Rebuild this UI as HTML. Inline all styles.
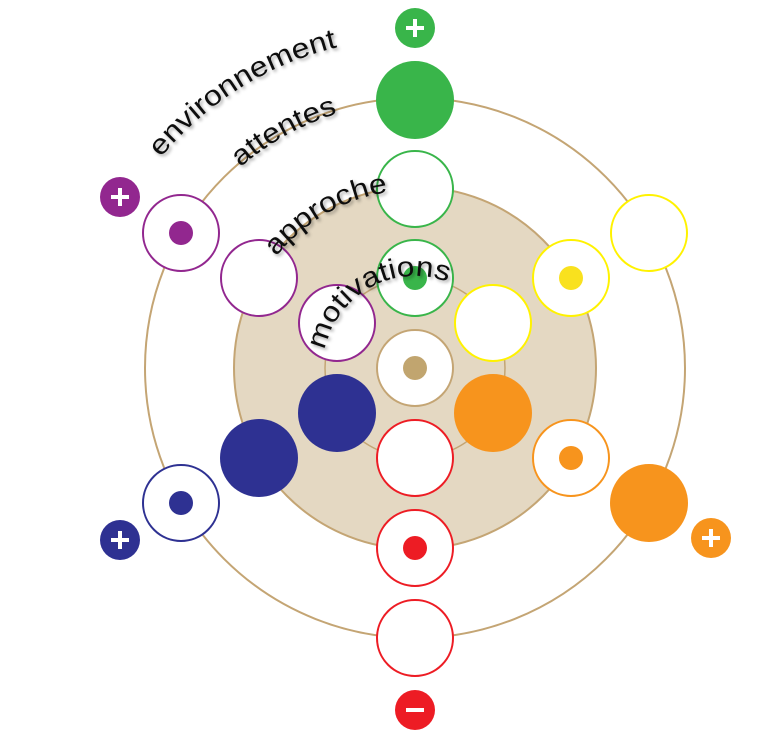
<!DOCTYPE html>
<html><head><meta charset="utf-8"><style>
html,body{margin:0;padding:0;background:#fff;}
svg{display:block;}
text{font-family:"Liberation Sans","DejaVu Sans",sans-serif;font-size:28px;fill:#111;}
</style></head><body>
<svg width="768" height="755" viewBox="0 0 768 755" xmlns="http://www.w3.org/2000/svg">
<defs>
<filter id="sh" x="-20%" y="-50%" width="140%" height="200%">
<feDropShadow dx="2" dy="2" stdDeviation="1.5" flood-color="#000" flood-opacity="0.35"/>
</filter>
<path id="p1" d="M85,368 A330,330 0 0 1 580,82.2"/>
<path id="p2" d="M149,368 A266,266 0 0 1 548,137.6"/>
<path id="p3" d="M237,368 A178,178 0 0 1 504,213.9"/>
<path id="p4" d="M323,368 A92,92 0 0 1 461,288.3"/>
</defs>
<circle cx="415" cy="368" r="270" fill="none" stroke="#c4a574" stroke-width="2"/>
<circle cx="415" cy="368" r="181" fill="#e4d8c2" stroke="#c4a574" stroke-width="2"/>
<circle cx="415" cy="368" r="90" fill="none" stroke="#c4a574" stroke-width="1.5"/>

<g stroke-width="2">
<circle cx="415" cy="100" r="39" fill="#39b54a"/>
<circle cx="415" cy="189" r="38" fill="#fff" stroke="#39b54a"/>
<circle cx="415" cy="278" r="38" fill="#fff" stroke="#39b54a"/>
<circle cx="415" cy="278" r="12" fill="#39b54a"/>
<circle cx="415" cy="458" r="38" fill="#fff" stroke="#ed1c24"/>
<circle cx="415" cy="548" r="38" fill="#fff" stroke="#ed1c24"/>
<circle cx="415" cy="548" r="12" fill="#ed1c24"/>
<circle cx="415" cy="638" r="38" fill="#fff" stroke="#ed1c24"/>
<circle cx="337" cy="323" r="38" fill="#fff" stroke="#92278f"/>
<circle cx="259" cy="278" r="38" fill="#fff" stroke="#92278f"/>
<circle cx="181" cy="233" r="38" fill="#fff" stroke="#92278f"/>
<circle cx="181" cy="233" r="12" fill="#92278f"/>
<circle cx="493" cy="323" r="38" fill="#fff" stroke="#fff200"/>
<circle cx="571" cy="278" r="38" fill="#fff" stroke="#fff200"/>
<circle cx="571" cy="278" r="12" fill="#f9e11e"/>
<circle cx="649" cy="233" r="38" fill="#fff" stroke="#fff200"/>
<circle cx="493" cy="413" r="39" fill="#f7941d"/>
<circle cx="571" cy="458" r="38" fill="#fff" stroke="#f7941d"/>
<circle cx="571" cy="458" r="12" fill="#f7941d"/>
<circle cx="649" cy="503" r="39" fill="#f7941d"/>
<circle cx="337" cy="413" r="39" fill="#2e3192"/>
<circle cx="259" cy="458" r="39" fill="#2e3192"/>
<circle cx="181" cy="503" r="38" fill="#fff" stroke="#2e3192"/>
<circle cx="181" cy="503" r="12" fill="#2e3192"/>
<circle cx="415" cy="368" r="38" fill="#fff" stroke="#c4a574"/>
<circle cx="415" cy="368" r="12" fill="#c1a56f"/>
</g>

<g stroke="#fff" stroke-width="4">
<circle cx="415" cy="28" r="20" fill="#39b54a" stroke="none"/>
<path d="M415,19v18M406,28h18"/>
<circle cx="120" cy="197" r="20" fill="#92278f" stroke="none"/>
<path d="M120,188v18M111,197h18"/>
<circle cx="120" cy="540" r="20" fill="#2e3192" stroke="none"/>
<path d="M120,531v18M111,540h18"/>
<circle cx="711" cy="538" r="20" fill="#f7941d" stroke="none"/>
<path d="M711,529v18M702,538h18"/>
<circle cx="415" cy="710" r="20" fill="#ed1c24" stroke="none"/>
<path d="M406,710h18"/>
</g>

<g filter="url(#sh)">
<g transform="rotate(-2 415 368)"><text><textPath href="#p1" startOffset="50%" text-anchor="middle" textLength="212" lengthAdjust="spacingAndGlyphs">environnement</textPath></text></g>
<g transform="rotate(1 415 368)"><text><textPath href="#p2" startOffset="50%" text-anchor="middle" textLength="112" lengthAdjust="spacingAndGlyphs">attentes</textPath></text></g>
<text><textPath href="#p3" startOffset="50%" text-anchor="middle" textLength="132" lengthAdjust="spacingAndGlyphs">approche</textPath></text>
<g transform="rotate(1 415 368)"><text><textPath href="#p4" startOffset="50%" text-anchor="middle" textLength="160" lengthAdjust="spacingAndGlyphs">motivations</textPath></text></g>
</g>
</svg>
</body></html>
